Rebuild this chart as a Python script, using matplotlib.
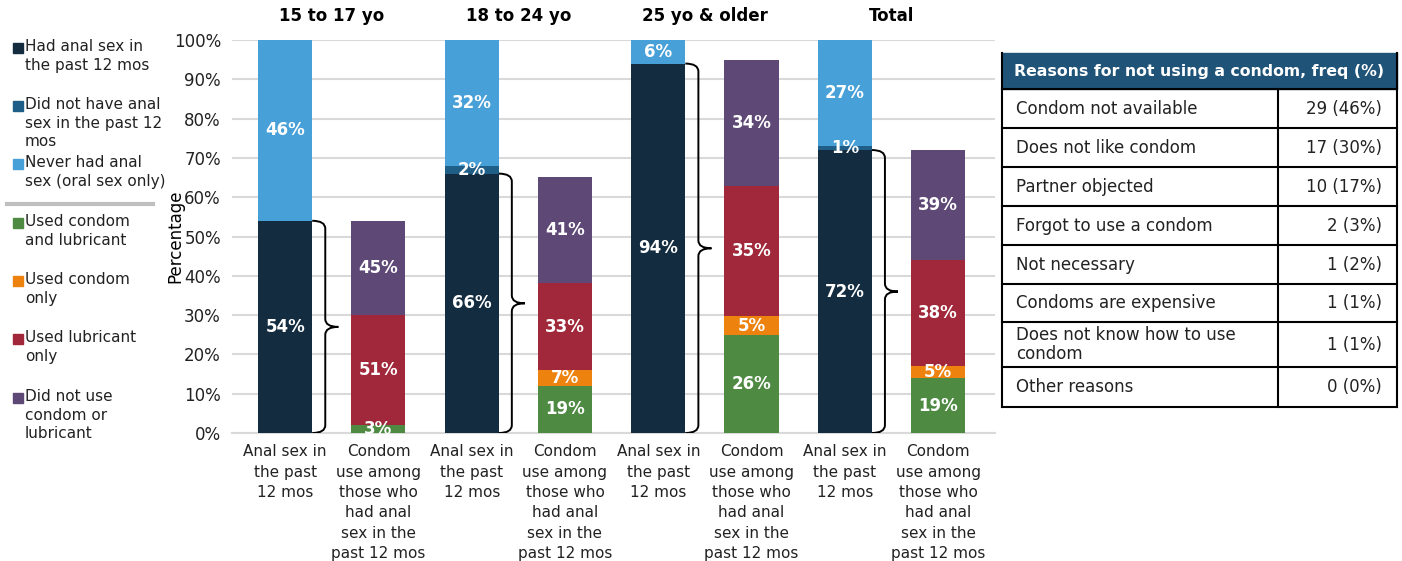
import matplotlib.pyplot as plt
from matplotlib.patches import Rectangle, PathPatch
from matplotlib.path import Path

plt.rcParams['font.family'] = ['DejaVu Sans']

groups = ['15 to 17 yo', '18 to 24 yo', '25 yo & older', 'Total']
had_anal = [54, 66, 94, 72]
not_past = [0, 2, 0, 1]
never_anal = [46, 32, 6, 27]
# condom use among those who had anal sex: shown labels (%)
cond_lub = [3, 19, 26, 19]
cond_only = [0, 7, 5, 5]
lub_only = [51, 33, 35, 38]
no_use = [45, 41, 34, 39]
# segment heights as drawn (share of whole group, %)
cond_lub_h = [2.0, 12.0, 24.9, 13.9]
cond_only_h = [0.0, 4.0, 4.9, 3.1]
lub_only_h = [28.0, 22.1, 33.0, 27.0]
no_use_h = [24.0, 27.0, 32.1, 28.0]

reasons = ['Condom not available', 'Does not like condom', 'Partner objected',
           'Forgot to use a condom', 'Not necessary', 'Condoms are expensive',
           'Does not know how to use\ncondom', 'Other reasons']
freqs = ['29 (46%)', '17 (30%)', '10 (17%)', '2 (3%)', '1 (2%)', '1 (1%)', '1 (1%)', '0 (0%)']

c_had = '#132c40'
c_not = '#1f5f87'
c_never = '#48a0d8'
c_green = '#4f8a43'
c_orange = '#ee820f'
c_red = '#a0283a'
c_purple = '#5e4876'

W, H = 1402, 561
fig = plt.figure(figsize=(W / 100, H / 100), dpi=100)
ax = fig.add_axes([232 / W, 1 - 433 / H, (995 - 232) / W, (433 - 40) / H])

bw = 0.58
for i in range(4):
    xa = 2 * i
    xc = 2 * i + 1
    bottom = 0
    for val, col in [(had_anal[i], c_had), (not_past[i], c_not), (never_anal[i], c_never)]:
        if val > 0:
            ax.bar(xa, val, bw, bottom=bottom, color=col, zorder=3)
            ax.text(xa, bottom + val / 2, f'{val}%', ha='center', va='center',
                    color='white', fontweight='bold', fontsize=12, zorder=4)
        bottom += val
    bottom = 0
    for val, h, col in [(cond_lub[i], cond_lub_h[i], c_green),
                        (cond_only[i], cond_only_h[i], c_orange),
                        (lub_only[i], lub_only_h[i], c_red),
                        (no_use[i], no_use_h[i], c_purple)]:
        if val > 0:
            ax.bar(xc, h, bw, bottom=bottom, color=col, zorder=3)
            ax.text(xc, bottom + h / 2, f'{val}%', ha='center', va='center',
                    color='white', fontweight='bold', fontsize=12, zorder=4)
        bottom += h
    # curly brace beside the anal sex bar
    top = had_anal[i]
    x0 = xa + bw / 2
    x1 = x0 + 0.14
    x2 = x1 + 0.14
    mid = top / 2
    r = 2
    verts = [(x0, 0), (x1, 0), (x1, r), (x1, mid - r), (x1, mid), (x2, mid),
             (x1, mid), (x1, mid + r), (x1, top - r), (x1, top), (x0, top)]
    codes = [Path.MOVETO, Path.CURVE3, Path.CURVE3, Path.LINETO, Path.CURVE3, Path.CURVE3,
             Path.CURVE3, Path.CURVE3, Path.LINETO, Path.CURVE3, Path.CURVE3]
    ax.add_patch(PathPatch(Path(verts, codes), fill=False, lw=1.4, color='black', zorder=5))
    ax.text(2 * i + 0.5, 106.2, groups[i], ha='center', va='center',
            fontweight='bold', fontsize=12, clip_on=False)

ax.set_xlim(-0.57, 7.61)
ax.set_ylim(0, 100)
ax.set_yticks(range(0, 101, 10))
ax.set_yticklabels([f'{v}%' for v in range(0, 101, 10)], fontsize=12, color='#222222')
ax.set_ylabel('Percentage', fontsize=12, labelpad=-8)
ax.grid(axis='y', color='#d9d9d9', lw=1.5, zorder=0)
for s in ['top', 'right', 'left']:
    ax.spines[s].set_visible(False)
ax.spines['bottom'].set_color('#d9d9d9')
ax.spines['bottom'].set_linewidth(1.5)
ax.tick_params(axis='both', length=0)
ax.tick_params(axis='y', pad=8)
xlab_a = 'Anal sex in\nthe past\n12 mos'
xlab_c = 'Condom\nuse among\nthose who\nhad anal\nsex in the\npast 12 mos'
ax.set_xticks(range(8))
ax.set_xticklabels([xlab_a, xlab_c] * 4, fontsize=11, linespacing=1.45, color='#222222')
ax.tick_params(axis='x', pad=8)

# legend
legend_items = [
    (c_had, 'Had anal sex in\nthe past 12 mos', 48),
    (c_not, 'Did not have anal\nsex in the past 12\nmos', 106),
    (c_never, 'Never had anal\nsex (oral sex only)', 164),
    (c_green, 'Used condom\nand lubricant', 223),
    (c_orange, 'Used condom\nonly', 281),
    (c_red, 'Used lubricant\nonly', 339),
    (c_purple, 'Did not use\ncondom or\nlubricant', 398),
]
for col, txt, y in legend_items:
    fig.patches.append(Rectangle((13 / W, 1 - (y + 5) / H), 10 / W, 10 / H,
                                 transform=fig.transFigure, color=col))
    fig.text(25 / W, 1 - (y - 9) / H, txt, ha='left', va='top', fontsize=11,
             linespacing=1.3, color='#222222')
fig.add_artist(plt.Line2D([7 / W, 153 / W], [1 - 204 / H, 1 - 204 / H],
                          color='#bfbfbf', lw=3, transform=fig.transFigure))

# table
tx = fig.add_axes([0, 0, 1, 1])
tx.set_xlim(0, W)
tx.set_ylim(H, 0)
tx.axis('off')
tx.patch.set_alpha(0)
left, right, split = 1002, 1397, 1278
tx.add_patch(Rectangle((left, 53), right - left, 36, color='#1f5378', zorder=1))
tx.text(1014, 71, 'Reasons for not using a condom, freq (%)', color='white',
        fontweight='bold', fontsize=11.3, va='center', ha='left')
bounds = [89, 128, 167, 206, 245, 284, 322, 367, 407]
for k, rs in enumerate(reasons):
    y0, y1 = bounds[k], bounds[k + 1]
    yc = (y0 + y1) / 2
    tx.text(1016, yc, rs, ha='left', va='center', fontsize=12, linespacing=1.1, color='#222222')
    tx.text(1382, yc, freqs[k], ha='right', va='center', fontsize=12, color='#222222')
for b in bounds:
    tx.plot([left, right], [b, b], color='black', lw=1.5)
tx.plot([left, left], [53, bounds[-1]], color='black', lw=1.5)
tx.plot([right, right], [53, bounds[-1]], color='black', lw=1.5)
tx.plot([split, split], [bounds[0], bounds[-1]], color='black', lw=1.5)

fig.savefig('out.png', dpi=100)
